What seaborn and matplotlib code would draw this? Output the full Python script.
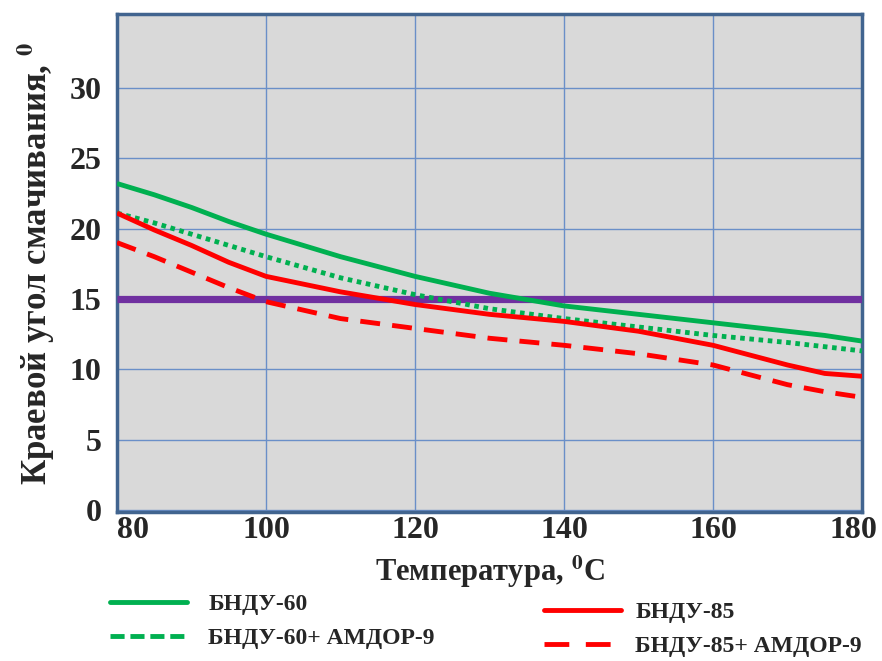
import numpy as np
import pandas as pd
import matplotlib
matplotlib.use("Agg")
import matplotlib.pyplot as plt
import matplotlib.transforms as mtransforms
import seaborn as sns
from matplotlib.lines import Line2D

temperature = [80, 85, 90, 95, 100, 110, 120, 130, 140, 150, 160, 170, 175, 180]
bndu60 = [23.2, 22.4, 21.5, 20.5, 19.6, 18.0, 16.6, 15.4, 14.5, 13.9, 13.3, 12.7, 12.4, 12.0]
bndu60_amdor = [21.1, 20.4, 19.6, 18.8, 18.0, 16.5, 15.3, 14.3, 13.6, 13.0, 12.4, 11.9, 11.6, 11.3]
bndu85 = [21.1, 19.9, 18.8, 17.6, 16.6, 15.5, 14.6, 13.9, 13.4, 12.7, 11.7, 10.3, 9.7, 9.5]
bndu85_amdor = [19.0, 18.0, 16.9, 15.8, 14.8, 13.6, 12.9, 12.2, 11.7, 11.1, 10.3, 8.9, 8.4, 8.0]
threshold = [15.0] * len(temperature)

labels = ["БНДУ-60", "БНДУ-60+ АМДОР-9", "БНДУ-85", "БНДУ-85+ АМДОР-9"]
xticks = [80, 100, 120, 140, 160, 180]
yticks = [0, 5, 10, 15, 20, 25, 30]

sns.set_theme(style="white")
plt.rcParams['font.family'] = ['Liberation Serif', 'DejaVu Serif']
plt.rcParams['font.weight'] = 'bold'
plt.rcParams['mathtext.fontset'] = 'stix'

GREEN = "#00B050"
RED = "#FF0000"
PURPLE = "#7030A0"

fig = plt.figure(figsize=(8.82, 6.61), dpi=100)
ax = fig.add_axes([117/882, 1 - 512/661, (862-117)/882, (512-14)/661])
ax.set_facecolor("#D9D9D9")

df = pd.DataFrame({"T": temperature, "a": bndu60, "b": bndu60_amdor,
                   "c": bndu85, "d": bndu85_amdor, "t": threshold})

sns.lineplot(data=df, x="T", y="t", ax=ax, color=PURPLE, lw=5.2, zorder=3)
sns.lineplot(data=df, x="T", y="a", ax=ax, color=GREEN, lw=3.5, zorder=4)
sns.lineplot(data=df, x="T", y="b", ax=ax, color=GREEN, lw=3.5, zorder=4)
ax.lines[-1].set_linestyle((0, (0.95, 0.95)))
sns.lineplot(data=df, x="T", y="c", ax=ax, color=RED, lw=3.5, zorder=4)
sns.lineplot(data=df, x="T", y="d", ax=ax, color=RED, lw=3.5, zorder=4)
ax.lines[-1].set_linestyle((0, (4.1, 2.5)))
for ln in ax.lines:
    ln.set_solid_capstyle('butt')
    ln.set_dash_capstyle('butt')
    ln.set_solid_joinstyle('round')

ax.set_xlim(80, 180)
ax.set_ylim(-0.15, 35.25)
ax.set_xticks(xticks)
ax.set_yticks(yticks)
ax.grid(True, color="#6A8FC8", lw=1.0)
ax.set_axisbelow(True)
for s in ax.spines.values():
    s.set_color("#41648F")
    s.set_linewidth(2.5)
ax.tick_params(axis='both', length=0, labelsize=23)
ax.tick_params(axis='x', pad=3)
ax.tick_params(axis='y', pad=11)
for t in ax.get_xticklabels() + ax.get_yticklabels():
    t.set_fontweight('bold')
xl = ax.get_xticklabels()
xl[0].set_horizontalalignment('left')
shift = mtransforms.ScaledTranslation(-6/72, 0, fig.dpi_scale_trans)
xl[-1].set_transform(xl[-1].get_transform() + shift)

ax.set_xlabel("Температура, $^{\\mathbf{0}}$C", fontsize=22, fontweight='bold', labelpad=6)
ax.set_ylabel("Краевой угол смачивания, $^{\\mathbf{0}}$", fontsize=25, fontweight='bold', labelpad=9)

h1 = [Line2D([], [], color=GREEN, lw=3.5),
      Line2D([], [], color=GREEN, lw=3.5, ls=(0, (2.9, 1.2)))]
h2 = [Line2D([], [], color=RED, lw=3.5),
      Line2D([], [], color=RED, lw=3.5, ls=(0, (5.1, 3.4)))]
leg1 = fig.legend(h1, labels[:2], loc='upper left', bbox_to_anchor=(89/882, 1 - 572/661),
                  frameon=False, prop={'size': 17, 'weight': 'bold'}, handlelength=3.25,
                  labelspacing=0.55, handletextpad=0.9)
leg2 = fig.legend(h2, labels[2:], loc='upper left', bbox_to_anchor=(523/882, 1 - 580/661),
                  frameon=False, prop={'size': 17, 'weight': 'bold'}, handlelength=3.25,
                  labelspacing=0.55, handletextpad=0.6)

fig.savefig("out.png", dpi=100)
